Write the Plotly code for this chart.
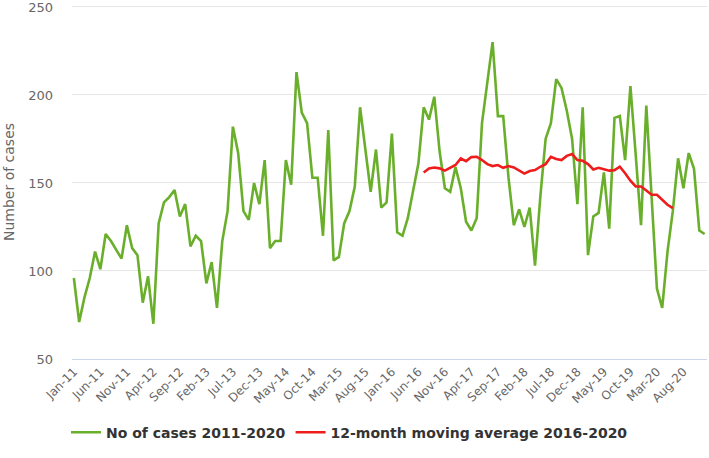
import plotly.graph_objects as go

# Month labels Jan-11 .. Dec-20
month_names = ["Jan", "Feb", "Mar", "Apr", "May", "Jun", "Jul", "Aug", "Sep", "Oct", "Nov", "Dec"]
years = ["11", "12", "13", "14", "15", "16", "17", "18", "19", "20"]
months = [f"{m}-{y}" for y in years for m in month_names]

cases = [
    96, 71, 85, 96, 111, 101, 121, 117, 112, 107, 126, 113,
    109, 82, 97, 70, 127, 139, 142, 146, 131, 138, 114, 120,
    117, 93, 105, 79, 117, 134, 182, 167, 134, 129, 150, 138,
    163, 113, 117, 117, 163, 149, 213, 190, 184, 153, 153, 120,
    180, 106, 108, 127, 134, 148, 193, 168, 145, 169, 136, 139,
    178, 122, 120, 130, 145, 161, 193, 186, 199, 168, 147, 145,
    159, 147, 128, 123, 130, 184, 207, 230, 188, 188, 153, 126,
    135, 125, 136, 103, 142, 175, 184, 209, 204, 191, 175, 138,
    193, 109, 131, 133, 156, 124, 187, 188, 163, 205, 166, 126,
    194, 143, 90, 79, 111, 134, 164, 147, 167, 158, 123, 121,
]

ma_start = "Jul-16"
moving_avg = [
    156, 158.3, 158.8, 158.3, 157, 158.6, 160.2, 163.9, 162.4, 164.7, 164.9, 163,
    160.7, 159.6, 160.2, 158.6, 159.6, 158.8, 157, 155.3, 156.8, 157.3, 159.2, 160.7,
    164.9, 163.6, 163, 165.4, 166.4, 163, 162.6, 160.7, 157.7, 158.6, 157.8, 157,
    157.3, 159.2, 155.5, 151.3, 148, 148, 145.7, 143.3, 143.3, 140.4, 137.6, 135.7,
]

tick_labels = ["Jan-11", "Jun-11", "Nov-11", "Apr-12", "Sep-12", "Feb-13", "Jul-13", "Dec-13",
               "May-14", "Oct-14", "Mar-15", "Aug-15", "Jan-16", "Jun-16", "Nov-16", "Apr-17",
               "Sep-17", "Feb-18", "Jul-18", "Dec-18", "May-19", "Oct-19", "Mar-20", "Aug-20"]

y_ticks = [50, 100, 150, 200, 250]

i0 = months.index(ma_start)
ma_x = months[i0:i0 + len(moving_avg)]

FONT = "DejaVu Sans"
fig = go.Figure()
fig.add_trace(go.Scatter(x=months, y=cases, mode="lines", name="No of cases 2011-2020",
                         line=dict(color="#6aaf2b", width=2.6)))
fig.add_trace(go.Scatter(x=ma_x, y=moving_avg, mode="lines", name="12-month moving average 2016-2020",
                         line=dict(color="#ee1c1c", width=2.6)))

fig.update_layout(
    width=709, height=458,
    margin=dict(l=72, r=2, t=5, b=99, autoexpand=False),
    paper_bgcolor="white", plot_bgcolor="white",
    font=dict(family=FONT, color="#666666", size=12),
    showlegend=True,
    legend=dict(orientation="h", x=0.437, xanchor="center",
                y=-0.208, yanchor="middle",
                font=dict(family=FONT, size=14, color="#333333", weight="bold"),
                itemwidth=30),
    xaxis=dict(type="category", categoryorder="array", categoryarray=months,
               range=[-0.35, len(months) - 1 + 0.45],
               tickmode="array", tickvals=tick_labels, ticktext=tick_labels,
               tickangle=-45, showgrid=False, showline=True, linecolor="#ccd6eb",
               linewidth=1, ticks="", tickfont=dict(size=12, color="#666666"),
               zeroline=False, automargin=False),
    yaxis=dict(range=[50, 251.1], tickvals=y_ticks, showgrid=True, gridcolor="#e6e6e6",
               gridwidth=1, zeroline=False, showline=False, ticks="",
               tickfont=dict(size=13, color="#666666"), ticklabelstandoff=18,
               ticklabeloverflow="allow", automargin=False,
               title=dict(text="Number of cases", font=dict(size=14, color="#666666"), standoff=10)),
)

fig.write_html("out.html", config={"displayModeBar": False},
               post_script="document.body.style.margin='0';")
